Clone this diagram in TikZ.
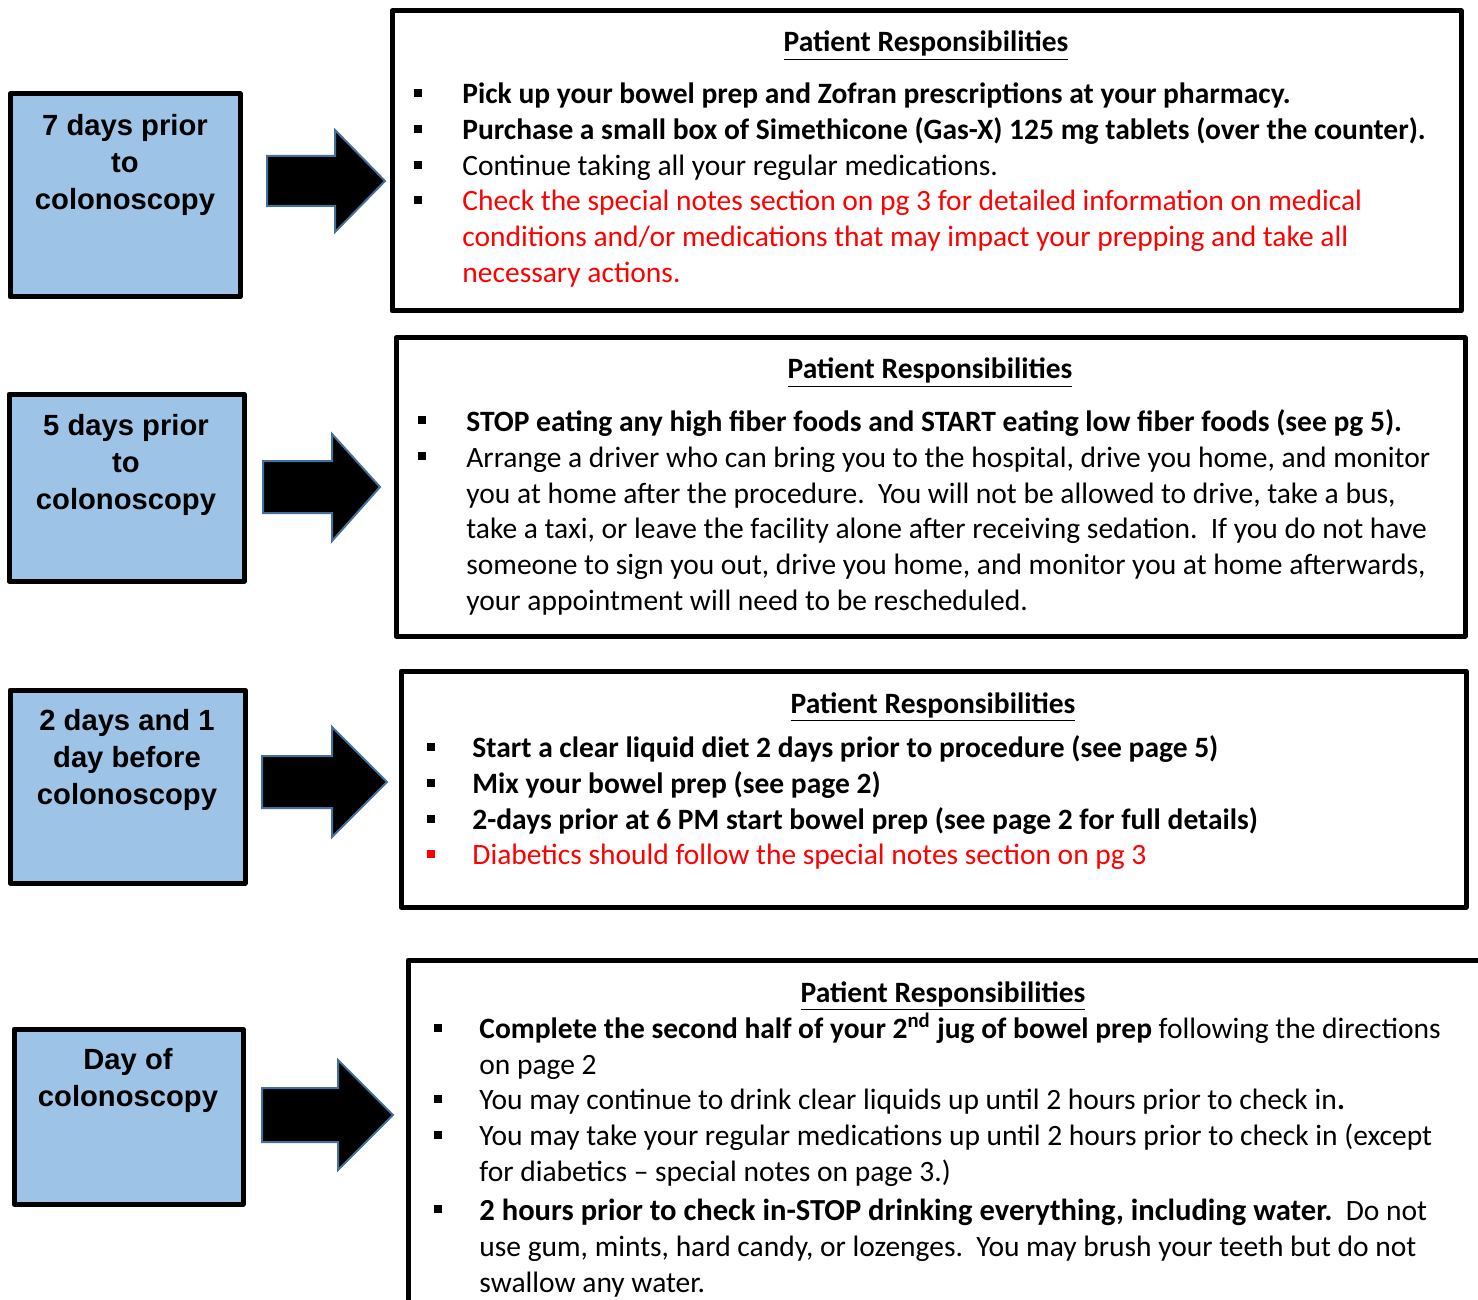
\documentclass[tikz,border=0pt]{standalone}
\usepackage{fontspec}
\setmainfont{Carlito}
\newfontfamily\arialfont{Liberation Sans}
\usepackage{tikz}

\definecolor{dayblue}{RGB}{157,195,230}
\definecolor{arrowline}{RGB}{65,113,156}
\definecolor{notered}{RGB}{255,0,0}

\tikzset{
  daybox/.style={draw=black, fill=dayblue, line width=2.5pt, line join=round},
  respbox/.style={draw=black, fill=white, line width=2.5pt, line join=round},
  blockarrow/.style={draw=arrowline, fill=black, line width=1pt},
  daytext/.style={inner sep=0pt, align=center, font=\arialfont\bfseries\fontsize{14.6}{18.5}\selectfont},
  resptext/.style={inner sep=0pt, anchor=base west, font=\fontsize{14.75}{18}\selectfont},
  resptitle/.style={inner sep=0pt, anchor=base, font=\bfseries\fontsize{14.75}{18}\selectfont},
  rednote/.style={resptext, text=notered}
}

\begin{document}
\begin{tikzpicture}[x=0.5pt, y=-0.5pt]
    \useasboundingbox (0,0) rectangle (1478,1300);
    \clip (0,0) rectangle (1478,1300);

    % draw day boxes on the left
    \draw[daybox] (10,94) rectangle (240,297);
    \draw[daybox] (9,394) rectangle (244,581);
    \draw[daybox] (10,690) rectangle (245,883);
    \draw[daybox] (14,1029) rectangle (243,1204);

    \node[daytext, anchor=north] (day7) at (125,114) {7 days prior\\to\\colonoscopy};
    \node[daytext, anchor=north] (day5) at (126,414) {5 days prior\\to\\colonoscopy};
    \node[daytext, anchor=north] (day2) at (127,709) {2 days and 1\\day before\\colonoscopy};
    \node[daytext, anchor=north] (day0) at (128,1048) {Day of\\colonoscopy};

    % draw block arrows
    \filldraw[blockarrow] (267,156) -- (335,156) -- (335,130) -- (385,181)
        -- (335,232) -- (335,206) -- (267,206) -- cycle;
    \filldraw[blockarrow] (263,461) -- (332,461) -- (332,434) -- (380,487)
        -- (332,541) -- (332,513) -- (263,513) -- cycle;
    \filldraw[blockarrow] (262,756) -- (332,756) -- (332,727) -- (387,782)
        -- (332,837) -- (332,808) -- (262,808) -- cycle;
    \filldraw[blockarrow] (262,1088) -- (338,1088) -- (338,1060) -- (393,1115)
        -- (338,1170) -- (338,1142) -- (262,1142) -- cycle;

    % draw responsibility boxes on the right
    \draw[respbox] (392,11) rectangle (1461,311);
    \draw[respbox] (396,338) rectangle (1465,636);
    \draw[respbox] (401,671) rectangle (1466,907);
    \draw[respbox] (408,960) rectangle (1500,1330);

    % first box: 7 days prior
    \node[resptitle] (title7) at (926,52) {\underline{Patient Responsibilities}};
    \fill[black] (414,89) rectangle (422,97);
    \fill[black] (414,125) rectangle (422,133);
    \fill[black] (414,161) rectangle (422,169);
    \fill[black] (414,196) rectangle (422,204);
    \node[resptext] (pick) at (462,104) {\bfseries Pick up your bowel prep and Zofran prescriptions at your pharmacy.};
    \node[resptext] (buy) at (462,140) {\bfseries Purchase a small box of Simethicone (Gas-X) 125 mg tablets (over the counter).};
    \node[resptext] (meds) at (462,176) {Continue taking all your regular medications.};
    \node[rednote] (notesa) at (462,211) {Check the special notes section on pg 3 for detailed information on medical};
    \node[rednote] (notesb) at (462,247) {conditions and/or medications that may impact your prepping and take all};
    \node[rednote] (notesc) at (462,283) {necessary actions.};

    % second box: 5 days prior
    \node[resptitle] (title5) at (930,379) {\underline{Patient Responsibilities}};
    \fill[black] (418,416) rectangle (426,424);
    \fill[black] (418,452) rectangle (426,460);
    \node[resptext] (fiber) at (466,431) {\bfseries STOP eating any high fiber foods and START eating low fiber foods (see pg 5).};
    \node[resptext] (drivea) at (466,467) {Arrange a driver who can bring you to the hospital, drive you home, and monitor};
    \node[resptext] (driveb) at (466,503) {you at home after the procedure.\ \ You will not be allowed to drive, take a bus,};
    \node[resptext] (drivec) at (466,538) {take a taxi, or leave the facility alone after receiving sedation.\ \ If you do not have};
    \node[resptext] (drived) at (466,574) {someone to sign you out, drive you home, and monitor you at home afterwards,};
    \node[resptext] (drivee) at (466,610) {your appointment will need to be rescheduled.};

    % third box: 2 days and 1 day before
    \node[resptitle] (title2) at (933,713) {\underline{Patient Responsibilities}};
    \fill[black] (427,743) rectangle (435,751);
    \fill[black] (427,779) rectangle (435,787);
    \fill[black] (427,815) rectangle (435,823);
    \fill[notered] (427,850) rectangle (435,858);
    \node[resptext] (diet) at (472,757) {\bfseries Start a clear liquid diet 2 days prior to procedure (see page 5)};
    \node[resptext] (mix) at (472,793) {\bfseries Mix your bowel prep (see page 2)};
    \node[resptext] (start) at (472,829) {\bfseries 2-days prior at 6 PM start bowel prep (see page 2 for full details)};
    \node[rednote] (diabetics) at (472,864) {Diabetics should follow the special notes section on pg 3};

    % fourth box: day of colonoscopy
    \node[resptitle] (title0) at (943,1002) {\underline{Patient Responsibilities}};
    \fill[black] (434,1024) rectangle (442,1032);
    \fill[black] (434,1095) rectangle (442,1103);
    \fill[black] (434,1131) rectangle (442,1139);
    \fill[black] (434,1205) rectangle (442,1213);
    \node[resptext] (juga) at (479,1038) {\textbf{Complete the second half of your 2\textsuperscript{nd} jug of bowel prep} following the directions};
    \node[resptext] (jugb) at (479,1074) {on page 2};
    \node[resptext] (clear) at (479,1109) {You may continue to drink clear liquids up until 2 hours prior to check in\textbf{.}};
    \node[resptext] (takea) at (479,1145) {You may take your regular medications up until 2 hours prior to check in (except};
    \node[resptext] (takeb) at (479,1181) {for diabetics -- special notes on page 3.)};
    \node[resptext] (stopa) at (479,1220) {{\bfseries\fontsize{15.3}{18}\selectfont 2 hours prior to check in-STOP drinking everything, including water.}\ \ Do not};
    \node[resptext] (stopb) at (479,1256) {use gum, mints, hard candy, or lozenges.\ \ You may brush your teeth but do not};
    \node[resptext] (stopc) at (479,1292) {swallow any water.};
\end{tikzpicture}
\end{document}
